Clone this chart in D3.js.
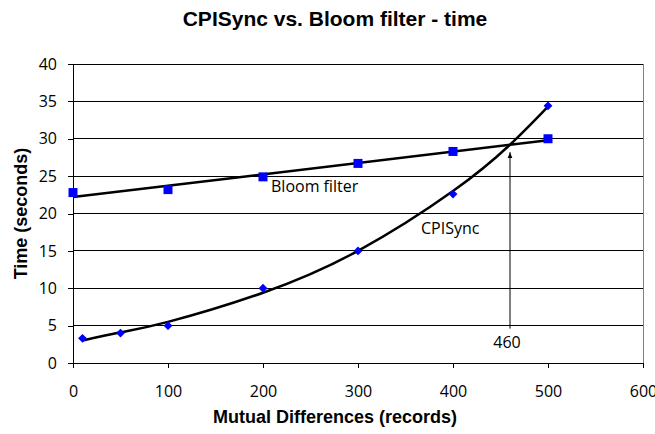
<!DOCTYPE html>
<html>
<head>
<meta charset="utf-8">
<script src="https://cdn.jsdelivr.net/npm/d3@7"></script>
<style>
  body { margin: 0; background: #fff; }
  svg { display: block; }
</style>
</head>
<body>
<svg></svg>
<script>
// values
const bloomX = [0, 100, 200, 300, 400, 500];
const bloomY = [22.8, 23.2, 24.9, 26.7, 28.3, 30.0];
const cpiX = [10, 50, 100, 200, 300, 400, 500];
const cpiY = [3.3, 4.0, 5.0, 10.0, 15.0, 22.6, 34.4];
// trendlines as drawn in the reference
const bloomTrendX = [0, 500];
const bloomTrendY = [22.2, 29.8];
const cpiTrendX = [10, 50, 100, 200, 300, 400, 460, 500];
const cpiTrendY = [3.0, 4.1, 5.5, 9.4, 15.0, 23.0, 29.2, 34.3];
const xTicks = [0, 100, 200, 300, 400, 500, 600];
const yTicks = [0, 5, 10, 15, 20, 25, 30, 35, 40];
const crossX = 460;

const size = {w: 655, h: 434};
const plot = {l: 73, r: 643, t: 64, b: 363};
const svg = d3.select('svg').attr('width', size.w).attr('height', size.h);

const x = d3.scaleLinear().domain([0, 600]).range([plot.l, plot.r]);
const y = d3.scaleLinear().domain([0, 40]).range([plot.b, plot.t]);

const tickFont = '"Open Sans", sans-serif';
const boldFont = '"Liberation Sans", Arial, sans-serif';

// gridlines
svg.append('g')
    .selectAll('line')
    .data(yTicks.filter(d => d > 0))
    .join('line')
    .attr('x1', plot.l).attr('x2', plot.r)
    .attr('y1', d => y(d)).attr('y2', d => y(d))
    .attr('stroke', '#000').attr('stroke-width', 1)
    .attr('shape-rendering', 'crispEdges');

// right border of plot area
svg.append('line')
    .attr('x1', plot.r).attr('x2', plot.r)
    .attr('y1', plot.t).attr('y2', plot.b)
    .attr('stroke', '#808080')
    .attr('shape-rendering', 'crispEdges');

// axes
const yAxis = svg.append('g')
    .attr('transform', `translate(${plot.l},0)`)
    .call(d3.axisLeft(y).tickValues(yTicks).tickSize(5).tickPadding(11));
const xAxis = svg.append('g')
    .attr('transform', `translate(0,${plot.b})`)
    .call(d3.axisBottom(x).tickValues(xTicks).tickSize(5).tickPadding(18));

[yAxis, xAxis].forEach(a => {
    a.select('.domain').attr('stroke', '#000').attr('shape-rendering', 'crispEdges');
    a.selectAll('.tick line').attr('stroke', '#000').attr('shape-rendering', 'crispEdges');
    a.selectAll('.tick text')
        .attr('font-family', tickFont)
        .attr('font-size', 16)
        .attr('fill', '#000');
});

// trendlines
const line = d3.line()
    .x(d => x(d[0]))
    .y(d => y(d[1]));

svg.append('path')
    .datum(d3.zip(bloomTrendX, bloomTrendY))
    .attr('d', line)
    .attr('fill', 'none')
    .attr('stroke', '#000')
    .attr('stroke-width', 2.5);

svg.append('path')
    .datum(d3.zip(cpiTrendX, cpiTrendY))
    .attr('d', line.curve(d3.curveNatural))
    .attr('fill', 'none')
    .attr('stroke', '#000')
    .attr('stroke-width', 2.5);

// markers
const blue = '#0000ff';
svg.append('g')
    .selectAll('rect')
    .data(d3.zip(bloomX, bloomY))
    .join('rect')
    .attr('x', d => x(d[0]) - 4.5)
    .attr('y', d => y(d[1]) - 4.5)
    .attr('width', 9).attr('height', 9)
    .attr('fill', blue);

const diamond = d3.symbol().type(d3.symbolDiamond2).size(50);
svg.append('g')
    .selectAll('path')
    .data(d3.zip(cpiX, cpiY))
    .join('path')
    .attr('transform', d => `translate(${x(d[0])},${y(d[1])})`)
    .attr('d', diamond)
    .attr('fill', blue);

// arrow marking the crossover
svg.append('defs').append('marker')
    .attr('id', 'arrow')
    .attr('viewBox', '0 0 10 10')
    .attr('refX', 10).attr('refY', 5)
    .attr('markerWidth', 6).attr('markerHeight', 6)
    .attr('orient', 'auto')
    .append('path')
    .attr('d', 'M0,1L10,5L0,9z')
    .attr('fill', '#000');

svg.append('line')
    .attr('x1', x(crossX)).attr('x2', x(crossX))
    .attr('y1', y(4.6)).attr('y2', y(28.2))
    .attr('stroke', '#000').attr('stroke-width', 1)
    .attr('marker-end', 'url(#arrow)');

// annotation labels
const labels = [
    {text: 'Bloom filter', x: 271, y: 192, anchor: 'start'},
    {text: 'CPISync', x: 421, y: 234, anchor: 'start'},
    {text: String(crossX), x: x(crossX) - 3, y: 348, anchor: 'middle'}
];
svg.append('g')
    .selectAll('text')
    .data(labels)
    .join('text')
    .attr('x', d => d.x).attr('y', d => d.y)
    .attr('text-anchor', d => d.anchor)
    .attr('font-family', tickFont)
    .attr('font-size', 16)
    .text(d => d.text);

// titles
svg.append('text')
    .attr('x', 335).attr('y', 26)
    .attr('text-anchor', 'middle')
    .attr('font-family', boldFont)
    .attr('font-weight', 'bold')
    .attr('font-size', 21)
    .text('CPISync vs. Bloom filter - time');

svg.append('text')
    .attr('x', 335).attr('y', 423)
    .attr('text-anchor', 'middle')
    .attr('font-family', boldFont)
    .attr('font-weight', 'bold')
    .attr('font-size', 18)
    .text('Mutual Differences (records)');

svg.append('text')
    .attr('transform', `translate(27,${(plot.t + plot.b) / 2}) rotate(-90)`)
    .attr('text-anchor', 'middle')
    .attr('font-family', boldFont)
    .attr('font-weight', 'bold')
    .attr('font-size', 18)
    .text('Time (seconds)');
</script>
</body>
</html>
